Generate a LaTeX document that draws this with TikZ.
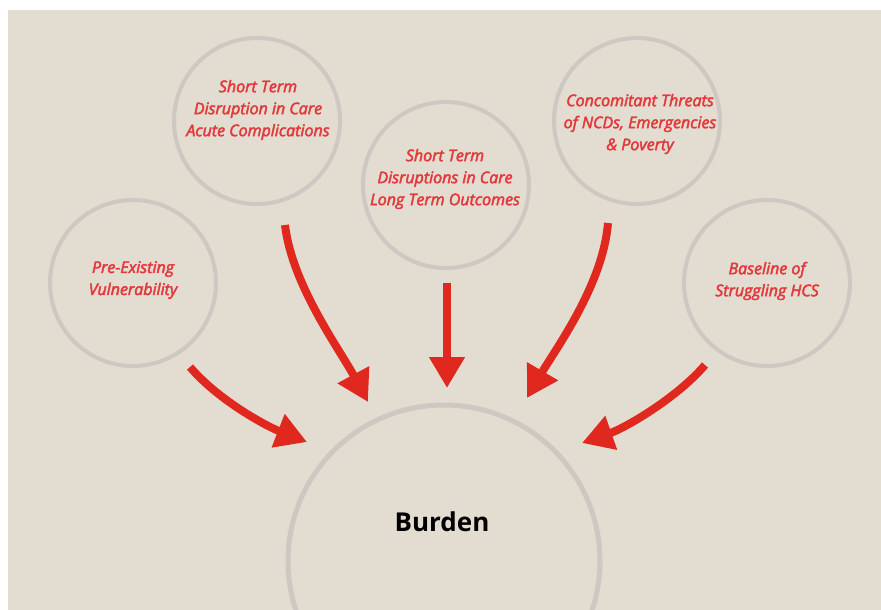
\documentclass[tikz,border=0pt]{standalone}
\usepackage{fontspec}
\setmainfont{Open Sans}
\usetikzlibrary{arrows.meta}
\definecolor{paper}{HTML}{E2DDD0}
\definecolor{ring}{HTML}{CDC9C2}
\definecolor{labelred}{HTML}{E23A3C}
\definecolor{arrowred}{HTML}{E0281F}
% slightly heavier italic labels: fill and stroke the glyphs
\newcommand\heavytext[1]{\special{pdf:literal direct 2 Tr 0.45 w}#1\special{pdf:literal direct 0 Tr}}
\tikzset{
  factor/.style={circle, draw=ring, line width=4pt, minimum size=166pt, inner sep=0pt},
  core/.style={circle, draw=ring, line width=5pt, minimum size=312pt, inner sep=0pt},
  factortext/.style={text=labelred, align=center, font=\fontsize{16}{22}\selectfont\itshape},
  coretext/.style={text=black, font=\fontsize{26}{30}\selectfont\bfseries},
  flow/.style={draw=arrowred, line width=8pt, -{Triangle[width=34pt,length=31pt]}}
}
\begin{document}
\begin{tikzpicture}[x=1pt,y=-1pt]
  \useasboundingbox (0,0) rectangle (881,610);
  \clip (0,0) rectangle (881,610);
  \fill[white] (0,0) rectangle (881,610);
  \fill[paper] (8,10) rectangle (881,610);

  % outer factors
  \node[factor] (pre)  at (133,283) {};
  \node[factor] (acute) at (257,121) {};
  \node[factor] (long) at (446,185) {};
  \node[factor] (ncd)  at (637,121) {};
  \node[factor] (hcs)  at (767,283) {};
  % central burden
  \node[core] (burden) at (444,561) {};

  \node[factortext] (preT)   at (133,280) {\heavytext{Pre-Existing\\Vulnerability}};
  \node[factortext] (acuteT) at (258,110) {\heavytext{Short Term\\Disruption in Care\\Acute Complications}};
  \node[factortext] (longT)  at (445,179) {\heavytext{Short Term\\Disruptions in Care\\Long Term Outcomes}};
  \node[factortext] (ncdT)   at (640,124) {\heavytext{Concomitant Threats\\of NCDs, Emergencies\\\& Poverty}};
  \node[factortext] (hcsT)   at (767,281) {\heavytext{Baseline of\\Struggling HCS}};
  \node[coretext] (burdenT)  at (442,522) {Burden};

  % arrow anchors
  \coordinate (a1) at (190,367);  \coordinate (b1) at (307,442);
  \coordinate (a2) at (285,225);  \coordinate (b2) at (368,402);
  \coordinate (a3) at (447,283);  \coordinate (b3) at (447,388);
  \coordinate (a4) at (608,223);  \coordinate (b4) at (527,398);
  \coordinate (a5) at (705,365);  \coordinate (b5) at (582,443);

  \draw[flow] (a1) .. controls (218,400) and (266,426) .. (b1);
  \draw[flow] (a2) .. controls (292,285) and (340,350) .. (b2);
  \draw[flow] (a3) -- (b3);
  \draw[flow] (a4) .. controls (603,285) and (555,350) .. (b4);
  \draw[flow] (a5) .. controls (677,398) and (625,428) .. (b5);
\end{tikzpicture}
\end{document}
